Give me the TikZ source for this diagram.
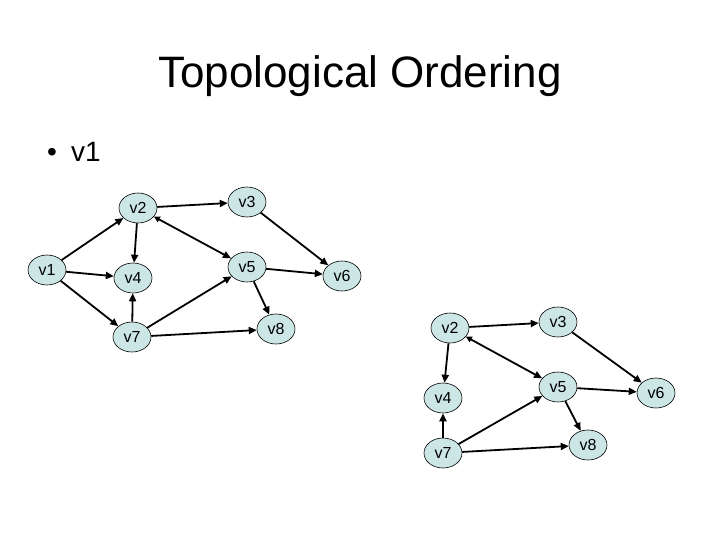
\documentclass[tikz,border=0pt]{standalone}
\usepackage{fontspec}
\setmainfont{Liberation Sans}
\usetikzlibrary{arrows.meta,shapes.geometric}
\definecolor{vertfill}{RGB}{204,230,230}

\begin{document}
\begin{tikzpicture}[x=1pt,y=-1pt,
		vert/.style={ellipse,draw=black,line width=0.6pt,fill=vertfill,
			minimum width=38pt,minimum height=30pt,inner sep=0pt,
			font=\fontsize{16}{18}\selectfont},
		edge/.style={-{Triangle[length=8pt,width=7pt]},line width=1.8pt},
		twoway/.style={{Triangle[length=6pt,width=6pt]}-{Triangle[length=8pt,width=7pt]},line width=1.8pt}]
		\useasboundingbox (0,0) rectangle (720,540);

		\node[anchor=base] (title) at (360,88) {\fontsize{44}{50}\selectfont Topological Ordering};
		\node[anchor=base] (dot) at (52,162) {\fontsize{28}{32}\selectfont •};
		\node[anchor=base west,inner sep=0pt] (item) at (71,162) {\fontsize{28}{32}\selectfont v1};

		% first graph, still with v1
		\foreach \n/\x/\y in {1/47/270, 2/138/208, 3/247/202, 4/133/278,
			5/247/267, 6/342/276, 7/132/337, 8/276/329} {
			\node[vert] (a\n) at (\x,\y) {v\n};
		}
		\foreach \s/\t in {1/2, 1/4, 1/7, 2/3, 2/4, 3/6, 5/6, 5/8, 7/4, 7/5, 7/8} {
			\draw[edge] (a\s) -- (a\t);
		}
		\draw[twoway] (a2) -- (a5);

		% second graph, v1 taken out
		\foreach \n/\x/\y in {2/450/328, 3/558/322, 4/443/398, 5/558/387,
			6/656/393, 7/443/453, 8/588/445} {
			\node[vert] (b\n) at (\x,\y) {v\n};
		}
		\foreach \s/\t in {2/3, 2/4, 3/6, 5/6, 5/8, 7/4, 7/5, 7/8} {
			\draw[edge] (b\s) -- (b\t);
		}
		\draw[twoway] (b2) -- (b5);
\end{tikzpicture}
\end{document}
